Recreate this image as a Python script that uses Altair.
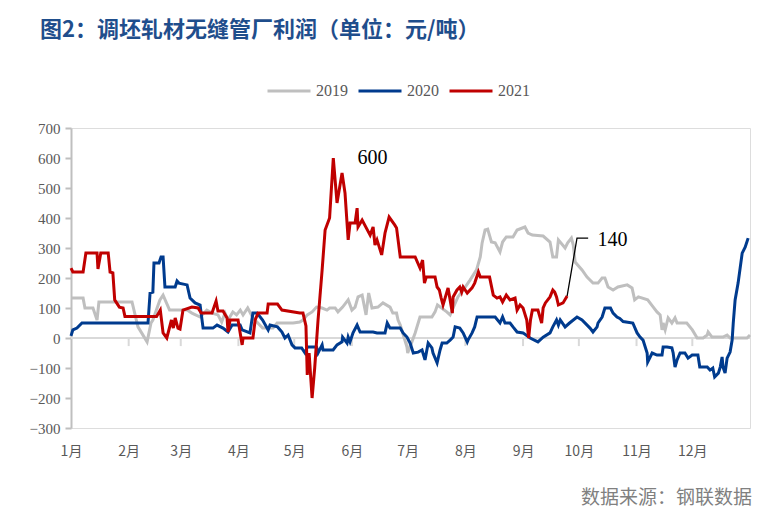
import altair as alt
import pandas as pd

# ---- data (day of year, profit yuan/ton) ----
day_2019 = [0, 6.5, 7.5, 11.8, 14, 15, 32.8, 36, 40.9, 43, 44, 47.8, 49.5, 53, 62.4, 65, 69.4, 73, 75.8, 79, 81, 82.8,
            84.4, 87, 89, 91, 92.5, 95, 97.8, 103, 108.6, 110.8, 114, 119.4, 123, 124.7, 127, 129.6, 132, 135, 137.6,
            139, 142, 143.5, 146, 149, 151, 152.7, 154.3, 156.5, 158.6, 160, 161.8, 165, 167.7, 171.5, 173, 175, 175.8,
            177, 180.6, 181, 183, 185, 187.6, 194, 195.7, 197, 202, 203.8, 205.4, 208, 210.8, 214.5, 218, 220, 221,
            222.6, 224, 226, 228, 230.6, 232, 234, 237.6, 239.8, 244, 245.7, 248, 253.8, 257.5, 259, 261, 262, 265.6,
            267, 269, 270, 271, 274.7, 277.4, 280.6, 283.3, 285.5, 287, 288.7, 291.4, 294, 299, 301.6, 303, 305, 310,
            313, 315, 316.7, 317.7, 318.3, 319.4, 321, 323, 324.7, 325.8, 331, 334, 336.6, 339.8, 342, 342.5, 344.6,
            350.5, 352.7, 354.3, 363.4, 365]
val_2019 = [133, 133, 100, 100, 60, 120, 120, 37, -13, 50, 60, 127, 143, 93, 93, 83, 70, 93, 83, 77, 53, 83,
            60, 87, 77, 93, 77, 100, 67, 33, 33, 50, 50, 50, 53, 60, 77, 87, 103, 100, 93,
            100, 100, 87, 103, 127, 93, 103, 137, 143, 77, 150, 100, 103, 117, 103, 83, 83, 60,
            43, -30, -50, -17, 17, 70, 70, 87, 110, 87, 77, 100, 137, 160, 193, 227, 270, 317,
            360, 363, 320, 317, 287, 320, 337, 337, 360, 370, 350, 343, 340, 320, 270, 270, 327, 300,
            317, 333, 310, 253, 227, 203, 183, 183, 200, 200, 170, 160, 170, 177, 167, 127, 137, 127,
            103, 87, 77, 27, 50, 27, 67, 50, 67, 50, 50, 27, 0, 0, 10, 20, 3,
            3, 10, 0, 0, 10]

day_2020 = [0, 1, 3.2, 5.9, 41.4, 42.5, 44, 44.6, 47.3, 48.4, 49.5, 50.5, 56, 57, 58, 62.4, 64, 66.7, 69.4, 71, 76.3,
            78.5, 81.7, 84.4, 86.6, 90.9, 92, 96.2, 97.8, 100, 103, 106, 107, 111, 113.4, 115, 116.7, 118.8, 120.4,
            124, 125.8, 127, 132, 132.8, 135, 135.5, 140.9, 143, 145.7, 146, 148.4, 149, 150, 151.6, 153.8, 155.4,
            162.4, 164.5, 168.8, 170, 171.5, 177, 178.5, 180.6, 182.3, 184, 186.6, 188.7, 190.3, 192, 194, 194.6,
            196.8, 198.4, 199.5, 202, 203.8, 205.4, 206.5, 209, 210.8, 213, 213.4, 215.6, 217, 218.3, 228, 230.6,
            232, 233.3, 236, 237.6, 239.8, 243, 246.8, 251, 253.8, 257.5, 259, 261, 262, 263, 265.6, 268, 272,
            274.7, 279, 280.6, 282.8, 283.3, 285.5, 287, 290, 291.4, 293.5, 295, 296.8, 302, 304.3, 305.9, 307.5,
            309.7, 310, 312.4, 315, 317.7, 318.3, 320.4, 323, 323.7, 324.7, 325.8, 327.4, 330, 331.7, 333.9, 337,
            338, 342, 343.5, 345, 346, 348, 349, 350, 350.5, 351.6, 352.7, 354.3, 355.4, 356, 357, 358.6, 360.8,
            362.4, 364]
val_2020 = [7, 27, 33, 50, 50, 150, 153, 250, 250, 270, 270, 170, 170, 190, 183, 177, 133, 117, 110, 33, 33,
            43, 33, 20, 43, 43, 27, 17, 83, 83, 60, 27, 43, 37, 20, 0, 10, -23, -33,
            -33, -50, -30, -30, -50, -23, -40, -40, -23, -13, 3, -17, 3, -13, 17, 43, 20,
            20, 17, 17, 50, 33, 33, 17, 3, -17, -50, -47, -40, -73, -17, -33, -50,
            -83, -40, -17, -17, -7, 3, 37, 33, 17, -13, -7, 17, 37, 70, 70, 50,
            70, 50, 50, 37, 20, 17, 0, -13, 3, 17, 37, 60, 43, 60, 37, 50, 70,
            60, 33, 20, 37, 50, 70, 100, 100, 83, 70, 65, 55, 50, 17, 3, -7,
            -50, -80, -50, -57, -57, -30, -30, -33, -50, -97, -73, -50, -50, -67, -57, -57,
            -97, -97, -107, -100, -130, -117, -97, -63, -97, -117, -67, -47, -7, 50, 127, 183, 283,
            303, 333]

day_2021 = [0, 1, 6.5, 8, 14, 14.5, 16, 20, 21, 22.5, 23.5, 26, 28, 29, 46, 48, 49.5, 51.5, 54, 55, 56, 57.5, 58.6,
            60.2, 65, 68.3, 70, 75.8, 78, 79, 81.7, 83.9, 84.4, 85.5, 89.8, 92, 92.5, 97.8, 99, 100.5, 105.4, 106,
            111, 113.4, 123, 124.7, 126.3, 127, 128, 129.6, 131, 132.8, 135, 136.6, 139, 141, 143, 145.7, 147.3,
            149, 150, 152.7, 153.8, 154.3, 156.5, 160.8, 162.4, 163.4, 164.5, 167, 168.8, 171, 174, 175, 177, 185,
            187.6, 189, 190, 191, 195.7, 196.8, 198, 199, 200, 202.7, 205, 205.4, 207.5, 209, 210, 210.8, 213,
            215.6, 217, 219, 220, 225, 227, 229, 230.6, 232, 234, 236, 238.7, 239.8, 241.4, 243, 245, 246, 247,
            248, 251, 253, 253.8, 255, 257.5, 259, 260, 261, 262, 264.5, 266.7]
val_2021 = [233, 220, 220, 283, 283, 230, 283, 283, 220, 217, 127, 103, 100, 72, 72, 93, 17, 0, 60, 33, 67, 33, 30,
            93, 103, 100, 83, 83, 123, 90, 90, 67, 20, 60, 60, -23, 0, 0, 60, 83, 83, 113,
            113, 93, 83, 83, 40, -123, -50, -200, -100, 60, 227, 360, 400, 600, 450, 550, 483,
            327, 383, 383, 433, 370, 393, 343, 370, 310, 327, 277, 350, 403, 377, 367, 270, 270,
            233, 260, 183, 203, 203, 170, 160, 133, 110, 167, 83, 137, 160, 170, 153, 170, 150,
            167, 183, 220, 203, 203, 143, 133, 137, 120, 143, 127, 133, 93, 110, 100, 60, 0, 60,
            93, 93, 50, 100, 117, 137, 160, 153, 137, 110, 117, 140]

years = ["2019", "2020", "2021"]
colors = ["#bfbfbf", "#003b8e", "#c00000"]
month_labels = ["1月", "2月", "3月", "4月", "5月", "6月", "7月", "8月", "9月", "10月", "11月", "12月"]
month_starts = [0, 31, 59, 90, 120, 151, 181, 212, 243, 273, 304, 334]
y_ticks = [-300, -200, -100, 0, 100, 200, 300, 400, 500, 600, 700]

# annotations
peak_label = {"d": 154, "v": 600, "t": "600"}
end_label = {"d": 283, "v": 328, "t": "140"}
callout_d = [266.7, 272, 278]
callout_v = [140, 333, 333]

title_text = "图2：调坯轧材无缝管厂利润（单位：元/吨）"
source_text = "数据来源：钢联数据"

# ---- build tables ----
frames = []
for y, d, v in [("2019", day_2019, val_2019), ("2020", day_2020, val_2020), ("2021", day_2021, val_2021)]:
    frames.append(pd.DataFrame({"day": d, "value": v, "year": y, "order": range(len(d))}))
df = pd.concat(frames, ignore_index=True)

W, H = 679, 300
xscale = alt.Scale(domain=[0, 365], nice=False, zero=False)
yscale = alt.Scale(domain=[-300, 700], nice=False)

label_expr = "[" + ",".join(f"'{m}'" for m in month_labels) + "]"
month_idx = "indexof([" + ",".join(str(m) for m in month_starts) + "], datum.value)"

x_axis = alt.Axis(
    values=month_starts,
    title=None,
    domain=False,
    ticks=False,
    grid=False,
    labelExpr=f"{label_expr}[{month_idx}]",
    labelFont="Noto Sans CJK SC",
    labelFontSize=14,
    labelColor="#595959",
    labelPadding=16,
    labelFlush=False,
    labelOverlap=False,
)
y_axis = alt.Axis(
    values=y_ticks,
    title=None,
    grid=False,
    domainColor="#bfbfbf",
    domainWidth=2,
    tickColor="#bfbfbf",
    tickWidth=2,
    tickSize=6,
    labelFont="Liberation Serif",
    labelFontSize=15,
    labelColor="#595959",
    labelPadding=5,
    labelOverlap=False,
    labelFlush=False,
)

zero_line = alt.Chart(pd.DataFrame({"v": [0]})).mark_rule(color="#d9d9d9", strokeWidth=2).encode(
    y=alt.Y("v:Q", scale=yscale, axis=y_axis)
)

ticks_df = pd.DataFrame({"d": month_starts[1:], "y0": [0] * 11, "y1": [-27] * 11})
x_ticks = alt.Chart(ticks_df).mark_rule(color="#d9d9d9", strokeWidth=2).encode(
    x=alt.X("d:Q", scale=xscale, axis=x_axis),
    y=alt.Y("y0:Q", scale=yscale, axis=y_axis),
    y2="y1:Q",
)

lines = alt.Chart(df).mark_line(strokeWidth=3, interpolate="linear").encode(
    x=alt.X("day:Q", scale=xscale, axis=x_axis),
    y=alt.Y("value:Q", scale=yscale, axis=y_axis),
    color=alt.Color(
        "year:N",
        scale=alt.Scale(domain=years, range=colors),
        legend=alt.Legend(
            orient="none",
            legendX=195,
            legendY=-60,
            direction="horizontal",
            title=None,
            symbolType="stroke",
            symbolSize=1849,
            symbolStrokeWidth=3,
            labelFont="Liberation Serif",
            labelFontSize=16,
            labelColor="#595959",
            labelOffset=4,
            columnPadding=4,
        ),
    ),
    order="order:Q",
)

callout = alt.Chart(pd.DataFrame({"d": callout_d, "v": callout_v, "o": [0, 1, 2]})).mark_line(
    color="black", strokeWidth=1.3
).encode(x=alt.X("d:Q", scale=xscale, axis=x_axis), y=alt.Y("v:Q", scale=yscale, axis=y_axis), order="o:Q")

ann = alt.Chart(pd.DataFrame([peak_label, end_label])).mark_text(
    align="left", baseline="middle", font="Liberation Serif", fontSize=20, color="black"
).encode(x=alt.X("d:Q", scale=xscale, axis=x_axis), y=alt.Y("v:Q", scale=yscale, axis=y_axis), text="t:N")

title = alt.Chart(pd.DataFrame({"t": [title_text]})).mark_text(
    align="left", baseline="middle", font="Noto Sans CJK SC", fontSize=22, fontWeight="bold", color="#1f4e8c"
).encode(x=alt.value(-31), y=alt.value(-98), text="t:N")

source = alt.Chart(pd.DataFrame({"t": [source_text]})).mark_text(
    align="right", baseline="middle", font="Noto Sans CJK SC", fontSize=19, color="#808080"
).encode(x=alt.value(681), y=alt.value(370), text="t:N")

chart = alt.layer(zero_line, x_ticks, lines, callout, ann, title, source).properties(
    width=W,
    height=H,
    autosize=alt.AutoSizeParams(type="none"),
    padding={"left": 63, "top": 120, "right": 10, "bottom": 84},
).configure_view(stroke=None).configure(background="white")

chart.save("out.html", embed_options={"renderer": "svg", "actions": False})
